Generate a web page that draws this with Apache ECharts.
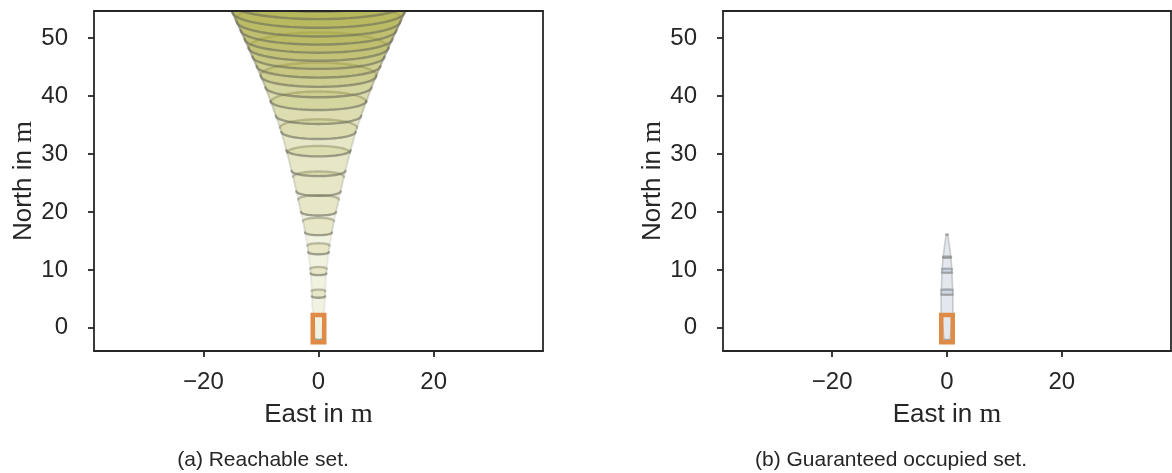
<!DOCTYPE html>
<html>
<head>
<meta charset="utf-8">
<script src="https://cdn.jsdelivr.net/npm/echarts@6/dist/echarts.min.js"></script>
<style>
html, body { margin: 0; padding: 0; background: #ffffff; }
#main { width: 1172px; height: 473px; }
</style>
</head>
<body>
<div id="main"></div>
<script>
var dom = document.getElementById('main');
var myChart = echarts.init(dom, null, { renderer: 'canvas' });

// axis ticks
const xTicks = [-20, 0, 20];
const yTicks = [0, 10, 20, 30, 40, 50];

// (a) reachable set: funnel half width (m) over north (m)
const reachEnvY = [-2.1, 2, 4, 7, 10, 14, 18, 22, 26, 30, 34, 38, 42, 46, 50, 55, 60, 70, 130];
const reachEnvW = [0.5, 0.85, 1.1, 1.2, 1.4, 1.9, 2.6, 3.5, 4.4, 5.4, 6.5, 7.9, 9.4, 11.1, 12.9, 15.2, 17.5, 23, 55];
// lower and upper north extent of every time-interval set
const reachBottom = [-2.1, 5.2, 9.1, 12.7, 16.0, 19.4, 22.8, 26.2, 29.6, 32.6, 35.2, 37.6, 39.8, 41.6, 43.2, 44.7, 46.1, 47.5, 48.9, 50.3, 51.8, 53.3, 54.6];
const reachTop = [6.6, 10.5, 14.6, 19.0, 22.9, 27.0, 31.4, 36.0, 40.8, 45.8, 51.0, 56.4, 62.0, 68.0, 74.0, 80.0, 86.0, 92.0, 98.0, 104.0, 110.0, 116.0, 122.0];

// (b) guaranteed occupied set
const occEnvY = [-2.1, 2.6, 6, 10, 12, 14, 16.1];
const occEnvW = [0.5, 1.05, 1.0, 0.85, 0.7, 0.45, 0.15];
const occBottom = [-2.1, 5.7, 9.5, 12.1];
const occTop = [6.6, 10.2, 12.3, 16.1];

// ego vehicle box: [east min, north min, east max, north max]
const egoBox = [-1.0, -2.5, 1.0, 2.2];

const ink = '#262626';
const sans = 'Liberation Sans';

function envWidth(envY, envW, y) {
  if (y <= envY[0]) return envW[0];
  for (let i = 1; i < envY.length; i++) {
    if (y <= envY[i]) {
      const f = (y - envY[i - 1]) / (envY[i] - envY[i - 1]);
      return envW[i - 1] + f * (envW[i] - envW[i - 1]);
    }
  }
  return envW[envW.length - 1];
}

// outline of one set: rounded bottom, funnel sides, rounded top
function setOutline(b, t, envY, envW, capK) {
  let db = capK * envWidth(envY, envW, b);
  let dt = capK * envWidth(envY, envW, t);
  if (db + dt > t - b) {
    const s = (t - b) / (db + dt);
    db *= s; dt *= s;
  }
  const yb = b + db, yt = t - dt;
  const wb = envWidth(envY, envW, yb), wt = envWidth(envY, envW, yt);
  const bottom = [], right = [], top = [], left = [];
  const n = 28, m = 24;
  for (let i = 0; i <= n; i++) {
    const a = Math.PI + Math.PI * i / n;
    bottom.push([wb * Math.cos(a), yb + db * Math.sin(a)]);
  }
  for (let i = 1; i < m; i++) {
    const y = yb + (yt - yb) * i / m;
    right.push([envWidth(envY, envW, y), y]);
    left.unshift([-envWidth(envY, envW, y), y]);
  }
  for (let i = 0; i <= n; i++) {
    const a = Math.PI * i / n;
    top.push([wt * Math.cos(a), yt + dt * Math.sin(a)]);
  }
  return { bottom: bottom, top: top, all: bottom.concat(right, top, left) };
}

function setSeries(idx, bottoms, tops, envY, envW, capK, look) {
  return {
    type: 'custom',
    xAxisIndex: idx,
    yAxisIndex: idx,
    clip: true,
    silent: true,
    data: bottoms.map(function (b, i) { return [0, b, tops[i]]; }),
    renderItem: function (params, api) {
      const o = setOutline(api.value(1), api.value(2), envY, envW, capK);
      const c = function (p) { return api.coord(p); };
      return {
        type: 'group',
        children: [
          { type: 'polygon', shape: { points: o.all.map(c) },
            style: { fill: look.fill, stroke: look.side, lineWidth: look.sideWidth, lineJoin: 'round' } },
          { type: 'polyline', shape: { points: o.bottom.map(c) },
            style: { fill: 'none', stroke: look.bottom, lineWidth: look.arcWidth, lineCap: 'round' } },
          { type: 'polyline', shape: { points: o.top.map(c) },
            style: { fill: 'none', stroke: look.top, lineWidth: look.arcWidth, lineCap: 'round' } }
        ]
      };
    }
  };
}

function boxSeries(idx) {
  return {
    type: 'custom',
    xAxisIndex: idx,
    yAxisIndex: idx,
    silent: true,
    z: 5,
    data: [egoBox],
    renderItem: function (params, api) {
      const p0 = api.coord([api.value(0), api.value(3)]);
      const p1 = api.coord([api.value(2), api.value(1)]);
      return {
        type: 'rect',
        shape: { x: p0[0], y: p0[1], width: p1[0] - p0[0], height: p1[1] - p0[1] },
        style: { fill: 'none', stroke: '#e08b45', lineWidth: 4.5 }
      };
    }
  };
}

const nameStyle = {
  color: ink,
  rich: {
    a: { fontSize: 26, fontFamily: sans, color: ink },
    m: { fontSize: 28, fontFamily: 'Liberation Serif', color: ink }
  }
};

function xAxisFor(idx) {
  return [{
    type: 'value', gridIndex: idx, min: -39, max: 39, z: 10,
    axisLine: { show: true, onZero: false, lineStyle: { color: ink, width: 1.8 } },
    axisTick: { show: true, length: 6, customValues: xTicks, lineStyle: { color: ink, width: 1.8 } },
    axisLabel: {
      customValues: xTicks, fontSize: 24, fontFamily: sans, color: ink, margin: 19,
      formatter: function (v) { return String(v).replace('-', '\u2212'); }
    },
    splitLine: { show: false },
    name: '{a|East in }{m|m}', nameLocation: 'middle', nameGap: 50, nameTextStyle: nameStyle
  }, {
    type: 'value', gridIndex: idx, min: -39, max: 39, position: 'top', z: 10,
    axisLine: { show: true, onZero: false, lineStyle: { color: ink, width: 1.8 } },
    axisTick: { show: false }, axisLabel: { show: false }, splitLine: { show: false }
  }];
}

function yAxisFor(idx) {
  return [{
    type: 'value', gridIndex: idx, min: -4, max: 54.7, z: 10,
    axisLine: { show: true, onZero: false, lineStyle: { color: ink, width: 1.8 } },
    axisTick: { show: true, length: 6, customValues: yTicks, lineStyle: { color: ink, width: 1.8 } },
    axisLabel: { customValues: yTicks, fontSize: 24, fontFamily: sans, color: ink, margin: 26 },
    splitLine: { show: false },
    name: '{a|North in }{m|m}', nameLocation: 'middle', nameGap: 53, nameTextStyle: nameStyle
  }, {
    type: 'value', gridIndex: idx, min: -4, max: 54.7, position: 'right', z: 10,
    axisLine: { show: true, onZero: false, lineStyle: { color: ink, width: 1.8 } },
    axisTick: { show: false }, axisLabel: { show: false }, splitLine: { show: false }
  }];
}

const reachLook = {
  fill: 'rgba(175,170,65,0.155)',
  side: 'rgba(120,120,120,0.12)', sideWidth: 2,
  bottom: 'rgba(105,105,90,0.55)', top: 'rgba(120,120,105,0.4)', arcWidth: 2.4
};
const occLook = {
  fill: 'rgba(160,178,200,0.3)',
  side: 'rgba(150,150,150,0.45)', sideWidth: 1.6,
  bottom: 'rgba(140,140,140,0.55)', top: 'rgba(140,140,140,0.55)', arcWidth: 2.6
};

// second grid uses x axis 2 and y axis 2
const option = {
  backgroundColor: '#ffffff',
  animation: false,
  grid: [
    { left: 94, top: 11, width: 449, height: 340 },
    { left: 723, top: 11, width: 448, height: 340 }
  ],
  xAxis: xAxisFor(0).concat(xAxisFor(1)),
  yAxis: yAxisFor(0).concat(yAxisFor(1)),
  series: [
    setSeries(0, reachBottom, reachTop, reachEnvY, reachEnvW, 0.2, reachLook),
    boxSeries(0),
    setSeries(2, occBottom, occTop, occEnvY, occEnvW, 0.05, occLook),
    boxSeries(2)
  ],
  graphic: [
    { type: 'text', x: 263, y: 460, style: { text: '(a) Reachable set.', align: 'center', verticalAlign: 'middle', textAlign: 'center', textVerticalAlign: 'middle', fontSize: 21, fontFamily: sans, fill: ink } },
    { type: 'text', x: 891, y: 460, style: { text: '(b) Guaranteed occupied set.', align: 'center', verticalAlign: 'middle', textAlign: 'center', textVerticalAlign: 'middle', fontSize: 21, fontFamily: sans, fill: ink } }
  ]
};

myChart.setOption(option);
window.addEventListener('resize', myChart.resize);
</script>
</body>
</html>
